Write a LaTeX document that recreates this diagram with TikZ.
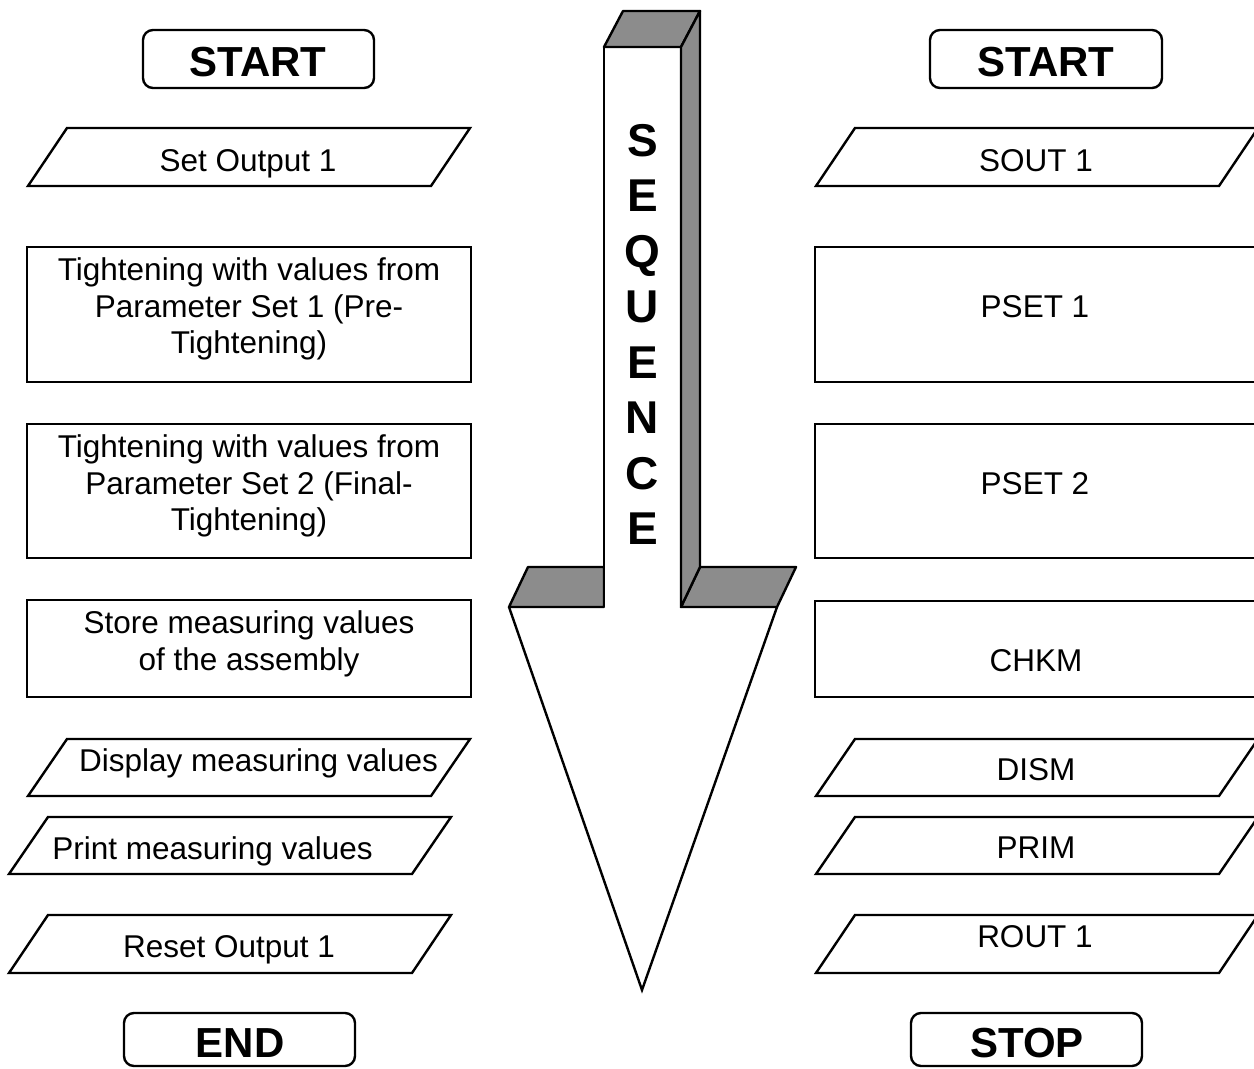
\documentclass[tikz,border=0pt]{standalone}
\usepackage{fontspec}
\setmainfont{Liberation Sans}
\definecolor{shade}{RGB}{140,140,140}
% input/output parallelogram: bottom-left x, top y, bottom y
\newcommand{\ioshape}[3]{%
  \draw[outline] (#1,#3) -- ({#1+39},#2) -- ({#1+442},#2) -- ({#1+403},#3) -- cycle;}
\begin{document}
\begin{tikzpicture}[x=1pt,y=-1pt,
  outline/.style={draw=black,fill=white,line width=2.4pt,line join=miter},
  face/.style={draw=black,fill=shade,line width=2.4pt,line join=round},
  term/.style={draw=black,fill=white,line width=2.4pt,rounded corners=10pt},
  txt/.style={anchor=base,inner sep=0pt,font=\fontsize{31.5}{37}\selectfont},
  bigtxt/.style={anchor=base,inner sep=0pt,font=\fontsize{42}{50}\selectfont\bfseries},
  seqtxt/.style={anchor=base,inner sep=0pt,font=\fontsize{46}{55}\selectfont\bfseries}]
\useasboundingbox (0,0) rectangle (1254,1069);
\fill[white] (0,0) rectangle (1254,1069);
\clip (0,0) rectangle (1254,1069);

% ---------- left column ----------
\draw[term] (143,30) rectangle (374,88);
\node[bigtxt] (startL) at (258,76) {START};

\ioshape{28}{128}{186}
\node[txt] (setout) at (248,171) {Set Output 1};

\draw[outline] (27,247) rectangle (471,382);
\node[txt] (pre1) at (249,280) {Tightening with values from};
\node[txt] (pre2) at (249,317) {Parameter Set 1 (Pre-};
\node[txt] (pre3) at (249,353) {Tightening)};

\draw[outline] (27,424) rectangle (471,558);
\node[txt] (fin1) at (249,457) {Tightening with values from};
\node[txt] (fin2) at (249,494) {Parameter Set 2 (Final-};
\node[txt] (fin3) at (249,530) {Tightening)};

\draw[outline] (27,600) rectangle (471,697);
\node[txt] (store1) at (249,633) {Store measuring values};
\node[txt] (store2) at (249,670) {of the assembly};

\ioshape{28}{739}{796}
\node[txt] (disp) at (258.5,771) {Display measuring values};

\ioshape{9}{817}{874}
\node[txt] (print) at (212.5,859) {Print measuring values};

\ioshape{9}{915}{973}
\node[txt] (reset) at (229,957) {Reset Output 1};

\draw[term] (124,1013) rectangle (355,1066);
\node[bigtxt] (endL) at (240,1057) {END};

% ---------- right column ----------
\draw[term] (930,30) rectangle (1162,88);
\node[bigtxt] (startR) at (1046,76) {START};

\ioshape{816}{128}{186}
\node[txt] (sout) at (1036,171) {SOUT 1};

\draw[outline] (815,247) rectangle (1270,382);
\node[txt] (pset1) at (1035,317) {PSET 1};

\draw[outline] (815,424) rectangle (1270,558);
\node[txt] (pset2) at (1035,494) {PSET 2};

\draw[outline] (815,601) rectangle (1270,697);
\node[txt] (chkm) at (1036,671) {CHKM};

\ioshape{816}{739}{796}
\node[txt] (dism) at (1036,780) {DISM};

\ioshape{816}{817}{874}
\node[txt] (prim) at (1036,858) {PRIM};

\ioshape{816}{915}{973}
\node[txt] (rout) at (1035,947) {ROUT 1};

\draw[term] (911,1013) rectangle (1142,1066);
\node[bigtxt] (stopR) at (1027,1057) {STOP};

% ---------- 3-D sequence arrow ----------
% arrow head
\fill[white] (509,607) -- (642,990) -- (777,607) -- cycle;
\draw[line width=2.4pt,line join=miter] (509,607) -- (642,990) -- (777,607);
% wings
\draw[face] (509,607) -- (528,567) -- (604,567) -- (604,607) -- cycle;
\draw[face] (681,607) -- (700,567) -- (796,567) -- (777,607) -- cycle;
% shaft front
\fill[white] (604,47) rectangle (681,607);
\draw[line width=2.4pt] (604,47) -- (604,607);
\draw[line width=2.4pt] (681,47) -- (681,607);
% shaft top and side
\draw[face] (604,47) -- (623,11) -- (700,11) -- (681,47) -- cycle;
\draw[face] (681,47) -- (700,11) -- (700,567) -- (681,607) -- cycle;

\foreach \ch [count=\i] in {S,E,Q,U,E,N,C,E}
  \node[seqtxt] (seq\i) at (642.5,{156+55.5*(\i-1)}) {\ch};
\end{tikzpicture}
\end{document}
